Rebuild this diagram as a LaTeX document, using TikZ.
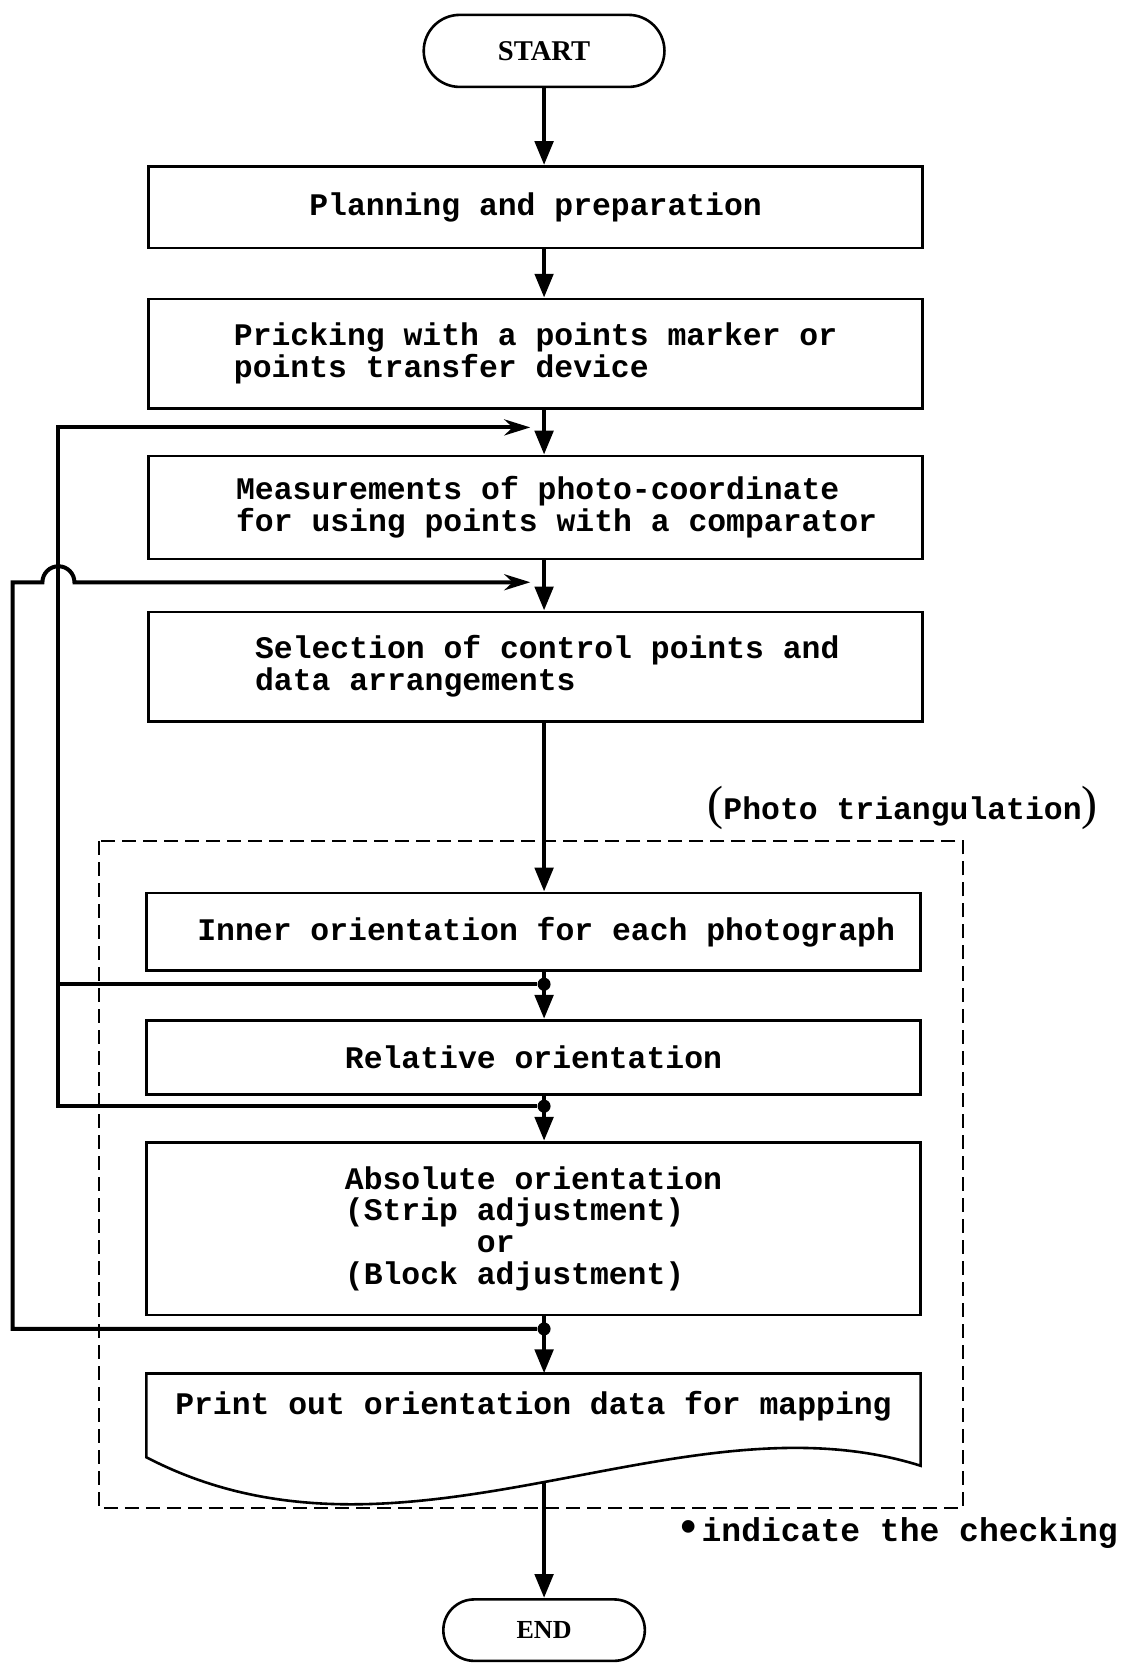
\documentclass[tikz,border=0pt]{standalone}
\usepackage{fontspec}
\setmonofont{Liberation Mono}
\newfontfamily\termfont{Liberation Serif}
\usetikzlibrary{arrows.meta, shapes.misc}
\newcommand{\bigpar}[1]{{\termfont\mdseries\fontsize{24pt}{24pt}\selectfont#1}}

\begin{document}
\begin{tikzpicture}[x=0.53pt, y=-0.53pt,
  box/.style={draw, line width=1.3pt, minimum width=386.9pt, align=left, inner sep=0pt,
    font=\fontsize{15.7pt}{15.9pt}\ttfamily\bfseries},
  term/.style={draw, line width=1.3pt, rounded rectangle, inner sep=0pt,
    font=\termfont\bfseries},
  txt/.style={font=\fontsize{15.7pt}{15.9pt}\ttfamily\bfseries},
  flow/.style={line width=2.4pt, -{Triangle[length=12pt,width=9pt]}},
  back/.style={line width=2pt},
  backarrow/.style={back, -{Stealth[length=13pt,width=8pt]}},
  chk/.style={circle, fill, inner sep=0pt, minimum size=6.5pt}]
\useasboundingbox (0,0) rectangle (1062,1568);
%terminals
\node[term, minimum width=120.3pt, minimum height=36pt, font=\fontsize{14.3pt}{14.3pt}\termfont\bfseries]
  (start) at (513,48) {START};
\node[term, minimum width=100.7pt, minimum height=30.7pt, font=\fontsize{13pt}{13pt}\termfont\bfseries]
  (end) at (513,1537) {END};
%process boxes
\node[box, minimum height=40.8pt] (plan) at (505,195.5) {Planning and preparation};
\node[box, minimum height=54.6pt] (prick) at (505,333.5)
  {Pricking with a points marker or\\points transfer device};
\node[box, minimum height=51.4pt] (meas) at (505,478.5)
  {\hspace*{21pt}Measurements of photo-coordinate\\\hspace*{21pt}for using points with a comparator};
\node[box, minimum height=54.6pt] (sel) at (505,628.5)
  {\hspace*{11.7pt}Selection of control points and\\\hspace*{11.7pt}data arrangements};
\node[box, minimum height=38.7pt] (inner) at (503,878.5)
  {\hspace*{12.7pt}Inner orientation for each photograph};
\node[box, minimum height=37.1pt] (rel) at (503,997) {Relative orientation};
\node[box, minimum height=86.4pt] (abs) at (503,1158.5)
  {Absolute orientation\\(Strip adjustment)\\\phantom{xxxxxxx}or\\(Block adjustment)};
%print out document
\draw[line width=1.3pt] (138,1295) -- (868,1295) -- (868,1382)
  .. controls (640,1310) and (380,1500) .. (138,1374) -- cycle;
\node[txt] (print) at (503,1326) {Print out orientation data for mapping};
\coordinate (printtop) at (513,1295);
\coordinate (printbot) at (513,1398);
%photo triangulation frame
\draw[line width=1pt, dash pattern=on 7pt off 3.5pt] (93,793) rectangle (908,1422);
\node[txt] (phototri) at (851,762) {\bigpar{(}Photo triangulation\bigpar{)}};
\node[anchor=west, font=\fontsize{16.5pt}{16.5pt}\ttfamily\bfseries] (note) at (630,1445)
  {{\fontsize{22pt}{16.5pt}\selectfont•}indicate the checking};
%main line
\draw[flow] (start.south) -- (start |- plan.north);
\draw[flow] (start |- plan.south) -- (start |- prick.north);
\draw[flow] (start |- prick.south) -- (start |- meas.north);
\draw[flow] (start |- meas.south) -- (start |- sel.north);
\draw[flow] (start |- sel.south) -- (start |- inner.north);
\draw[flow] (start |- inner.south) -- (start |- rel.north);
\draw[flow] (start |- rel.south) -- (start |- abs.north);
\draw[flow] (start |- abs.south) -- (printtop);
\draw[flow] (printbot) -- (end.north);
%checking points and the lines back
\node[chk] (chk1) at (513,928) {};
\node[chk] (chk2) at (513,1043) {};
\node[chk] (chk3) at (513,1253) {};
\coordinate (railA) at (55,403);
\coordinate (railB) at (12,549);
\coordinate (hop) at (40,549);
\coordinate (in1) at (500,403);
\coordinate (in2) at (500,549);
\draw[back] (chk1) -- (chk1 -| railA);
\draw[backarrow] (chk2) -| (railA) -- (in1);
\draw[backarrow] (chk3) -| (railB) -- (hop)
  arc[start angle=180, end angle=0, radius=8pt] -- (in2);
\end{tikzpicture}
\end{document}
